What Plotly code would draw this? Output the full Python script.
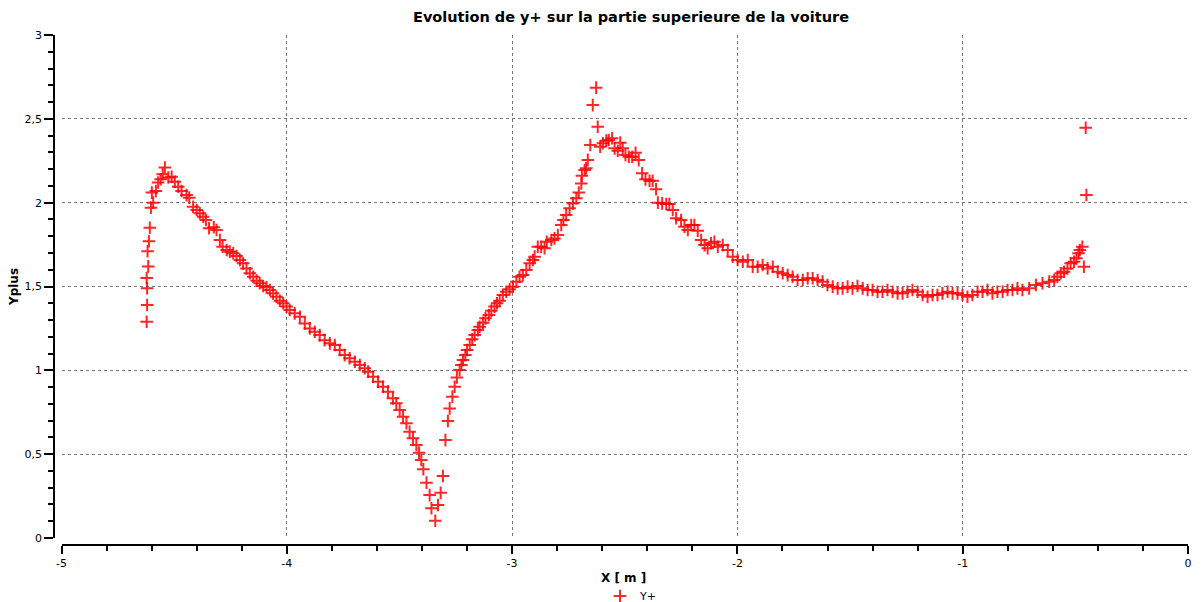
import plotly.graph_objects as go

# X position [m]
x_m = [
    -4.622, -4.620, -4.620, -4.622, -4.615, -4.618, -4.612, -4.608, -4.603, -4.593,
    -4.599, -4.581, -4.571, -4.560, -4.551, -4.541, -4.526, -4.511, -4.497, -4.482,
    -4.467, -4.445, -4.433, -4.416, -4.400, -4.386, -4.371, -4.359, -4.345, -4.324,
    -4.312, -4.297, -4.285, -4.267, -4.253, -4.238, -4.223, -4.208, -4.194, -4.179,
    -4.164, -4.149, -4.134, -4.120, -4.105, -4.090, -4.075, -4.061, -4.046, -4.031,
    -4.016, -4.001, -3.987, -3.965, -3.942, -3.920, -3.898, -3.876, -3.854, -3.832,
    -3.809, -3.787, -3.765, -3.743, -3.721, -3.698, -3.676, -3.654, -3.639, -3.617,
    -3.595, -3.573, -3.551, -3.529, -3.514, -3.499, -3.484, -3.469, -3.455, -3.440,
    -3.425, -3.413, -3.403, -3.394, -3.380, -3.366, -3.358, -3.341, -3.329, -3.317,
    -3.307, -3.296, -3.285, -3.277, -3.265, -3.255, -3.245, -3.233, -3.225, -3.218,
    -3.208, -3.200, -3.188, -3.177, -3.166, -3.152, -3.144, -3.129, -3.118, -3.103,
    -3.092, -3.078, -3.067, -3.055, -3.041, -3.026, -3.011, -2.996, -2.981, -2.967,
    -2.952, -2.937, -2.922, -2.908, -2.900, -2.886, -2.871, -2.856, -2.846, -2.826,
    -2.812, -2.797, -2.782, -2.772, -2.760, -2.745, -2.730, -2.715, -2.704, -2.693,
    -2.690, -2.678, -2.671, -2.664, -2.653, -2.642, -2.627, -2.620, -2.609, -2.597,
    -2.582, -2.571, -2.556, -2.545, -2.531, -2.520, -2.509, -2.497, -2.482, -2.467,
    -2.452, -2.438, -2.423, -2.408, -2.390, -2.376, -2.361, -2.353, -2.334, -2.316,
    -2.302, -2.287, -2.272, -2.250, -2.235, -2.220, -2.205, -2.191, -2.176, -2.161,
    -2.146, -2.132, -2.117, -2.102, -2.087, -2.065, -2.043, -2.021, -1.999, -1.976,
    -1.954, -1.932, -1.910, -1.888, -1.866, -1.843, -1.821, -1.799, -1.777, -1.755,
    -1.733, -1.710, -1.688, -1.666, -1.644, -1.622, -1.600, -1.577, -1.555, -1.533,
    -1.511, -1.489, -1.467, -1.444, -1.422, -1.400, -1.378, -1.356, -1.334, -1.311,
    -1.289, -1.267, -1.245, -1.223, -1.200, -1.178, -1.156, -1.134, -1.112, -1.090,
    -1.067, -1.045, -1.023, -1.001, -0.979, -0.957, -0.934, -0.912, -0.890, -0.868,
    -0.846, -0.823, -0.801, -0.779, -0.757, -0.735, -0.705, -0.675, -0.646, -0.616,
    -0.594, -0.580, -0.565, -0.550, -0.535, -0.521, -0.506, -0.495, -0.486, -0.480,
    -0.469, -0.462, -0.454, -0.451,
]

# Y+ values
yplus = [
    1.29, 1.39, 1.49, 1.55, 1.62, 1.71, 1.77, 1.85, 1.97, 2.00,
    2.06, 2.07, 2.12, 2.14, 2.17, 2.21, 2.15, 2.155, 2.125, 2.095,
    2.07, 2.045, 2.03, 1.976, 1.956, 1.937, 1.916, 1.897, 1.847, 1.853,
    1.837, 1.777, 1.737, 1.718, 1.708, 1.698, 1.682, 1.658, 1.638, 1.608,
    1.579, 1.558, 1.535, 1.519, 1.503, 1.495, 1.479, 1.459, 1.439, 1.415,
    1.400, 1.380, 1.360, 1.340, 1.320, 1.280, 1.250, 1.230, 1.210, 1.180,
    1.161, 1.151, 1.121, 1.091, 1.072, 1.051, 1.032, 1.012, 0.992, 0.962,
    0.932, 0.902, 0.873, 0.833, 0.803, 0.763, 0.723, 0.684, 0.634, 0.595,
    0.555, 0.509, 0.465, 0.410, 0.330, 0.256, 0.177, 0.103, 0.197, 0.270,
    0.370, 0.584, 0.698, 0.773, 0.843, 0.902, 0.958, 1.002, 1.032, 1.062,
    1.091, 1.121, 1.151, 1.185, 1.210, 1.240, 1.260, 1.284, 1.310, 1.330,
    1.356, 1.380, 1.400, 1.415, 1.450, 1.469, 1.483, 1.499, 1.529, 1.558,
    1.568, 1.598, 1.638, 1.658, 1.678, 1.737, 1.737, 1.728, 1.767, 1.777,
    1.787, 1.807, 1.867, 1.897, 1.926, 1.966, 1.996, 2.026, 2.060, 2.115,
    2.160, 2.195, 2.205, 2.255, 2.344, 2.582, 2.686, 2.453, 2.334, 2.354,
    2.370, 2.374, 2.384, 2.324, 2.310, 2.358, 2.324, 2.284, 2.274, 2.274,
    2.298, 2.254, 2.175, 2.139, 2.131, 2.131, 2.080, 2.000, 1.996, 1.992,
    1.992, 1.956, 1.907, 1.897, 1.857, 1.837, 1.867, 1.867, 1.833, 1.777,
    1.747, 1.728, 1.758, 1.767, 1.737, 1.747, 1.718, 1.678, 1.658, 1.648,
    1.658, 1.618, 1.618, 1.628, 1.608, 1.618, 1.588, 1.579, 1.568, 1.558,
    1.539, 1.539, 1.549, 1.549, 1.539, 1.529, 1.509, 1.499, 1.489, 1.489,
    1.499, 1.489, 1.503, 1.489, 1.479, 1.479, 1.469, 1.469, 1.479, 1.469,
    1.459, 1.459, 1.469, 1.479, 1.469, 1.449, 1.439, 1.449, 1.449, 1.459,
    1.469, 1.459, 1.459, 1.449, 1.439, 1.449, 1.469, 1.469, 1.479, 1.459,
    1.469, 1.469, 1.479, 1.479, 1.489, 1.479, 1.489, 1.509, 1.519, 1.529,
    1.539, 1.558, 1.579, 1.588, 1.608, 1.638, 1.648, 1.668, 1.698, 1.718,
    1.737, 1.618, 2.447, 2.046,
]

# Axis tick labels (ASCII hyphen minus, comma decimal as in the original)
x_tick_vals = [-5, -4, -3, -2, -1, 0]
x_tick_text = ["-5", "-4", "-3", "-2", "-1", "0"]

FONT = "DejaVu Sans"

fig = go.Figure()
fig.add_trace(go.Scatter(
    x=x_m, y=yplus, mode="markers", name="Y+",
    marker=dict(symbol="cross-thin", size=9, color="rgba(255,0,0,0.85)",
                line=dict(width=2, color="rgba(255,0,0,0.85)")),
))

grid = dict(showgrid=True, gridcolor="#777777", griddash="dot", gridwidth=1)

fig.update_layout(
    width=1201, height=602,
    margin=dict(l=54, r=13, t=35, b=57, autoexpand=False),
    paper_bgcolor="white", plot_bgcolor="white",
    separators=", ",
    font=dict(family=FONT, size=11, color="#000000"),
    title=dict(text="<b>Evolution de y+ sur la partie superieure de la voiture</b>",
               x=631 / 1201, xref="container", xanchor="center",
               y=1 - 17 / 602, yref="container", yanchor="middle",
               font=dict(family=FONT, size=14.5, color="#000000")),
    showlegend=True,
    legend=dict(orientation="h", x=631 / 1201, xref="container", xanchor="center",
                y=6 / 602, yref="container", yanchor="middle",
                font=dict(family=FONT, size=11), bgcolor="rgba(0,0,0,0)"),
    annotations=[dict(text="<b>X [ m ]</b>", xref="paper", yref="paper",
                      x=(623.7 - 54) / 1134, y=-(578 - 545) / 510,
                      xanchor="center", yanchor="middle", showarrow=False,
                      font=dict(family=FONT, size=12, color="#000000"))],
    xaxis=dict(
        range=[-5, 0], domain=[7.5 / 1134, 1], anchor="free", position=0,
        automargin=False,
        tickmode="array", tickvals=x_tick_vals, ticktext=x_tick_text,
        ticks="outside", ticklen=8, tickwidth=1.5, tickcolor="#000",
        showline=True, linecolor="#000", linewidth=1.5, zeroline=False,
        minor=dict(dtick=0.2, tick0=0, ticklen=5, tickwidth=1.5, tickcolor="#000", ticks="outside", showgrid=False),
        **grid,
    ),
    yaxis=dict(
        range=[0, 3], domain=[7 / 510, 1], anchor="free", position=0,
        automargin=False,
        dtick=0.5, tick0=0, ticks="outside", ticklen=9, tickwidth=1.5, tickcolor="#000",
        showline=True, linecolor="#000", linewidth=1.5, zeroline=False,
        minor=dict(dtick=0.1, ticklen=5, tickwidth=1.5, tickcolor="#000", ticks="outside", showgrid=False),
        title=dict(text="<b>Yplus</b>", standoff=2, font=dict(family=FONT, size=12)),
        **grid,
    ),
)

fig.write_html("out.html")
